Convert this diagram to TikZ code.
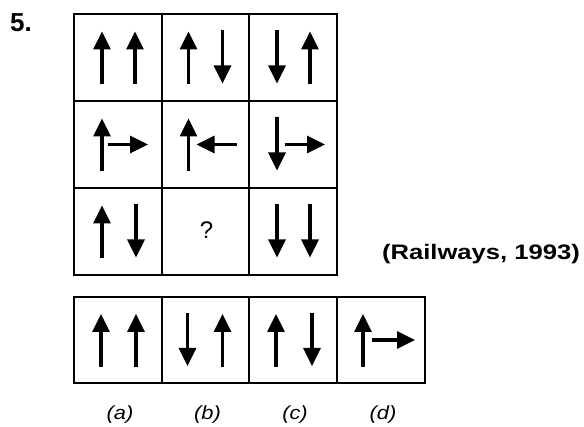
\documentclass[tikz,border=0pt]{standalone}
\usepackage{fontspec}
\setmainfont{Liberation Sans}
\usetikzlibrary{arrows.meta,calc}
\tikzset{
  cellbox/.style ={draw=black,line width=2pt,minimum width=87.5pt,minimum height=87pt,inner sep=0pt},
  arr/.style     ={line width=3.2pt,-{Triangle[length=18pt,width=17pt]}},
  numlab/.style  ={font=\bfseries\fontsize{26}{26}\selectfont,inner sep=0pt},
  srclab/.style  ={font=\bfseries\fontsize{21}{21}\selectfont,xscale=1.22,inner sep=0pt},
  optlab/.style  ={font=\itshape\fontsize{19}{19}\selectfont,xscale=1.15,inner sep=0pt},
  qlab/.style    ={font=\fontsize{24}{24}\selectfont,inner sep=0pt},
}
\newcommand{\uparr}[2]{\draw[arr] ($(#1)+(#2,27)$) -- ($(#1)+(#2,-26)$);}
\newcommand{\dnarr}[2]{\draw[arr] ($(#1)+(#2,-27)$) -- ($(#1)+(#2,26)$);}
\newcommand{\hzarr}[3]{\draw[arr] ($(#1)+(#2,0)$) -- ($(#1)+(#3,0)$);}

\begin{document}
\begin{tikzpicture}[x=1pt,y=-1pt]
  \useasboundingbox (0,0) rectangle (584,427);
  \node[numlab] (num) at (21,23) {5.};
  % problem figure
  \foreach \r/\yy in {1/57.5,2/144.5,3/231.5}{
    \foreach \c/\xx in {1/118,2/205.5,3/293}{
      \node[cellbox] (q\r\c) at (\xx,\yy) {};}}
  % answer figures
  \foreach \c/\xx/\t in {1/118/a,2/205.5/b,3/293/c,4/381/d}{
    \node[cellbox,minimum height=86pt] (o\c) at (\xx,340) {};
    \node[optlab] (l\c) at (\xx+2,415) {(\t)};}
  \node[srclab] (src) at (481,254) {(Railways, 1993)};
  \node[qlab] (qm) at ($(q32)+(1,-1)$) {?};
  % row 1
  \uparr{q11}{-16} \uparr{q11}{17}
  \uparr{q12}{-17} \dnarr{q12}{17}
  \dnarr{q13}{-16} \uparr{q13}{17}
  % row 2
  \uparr{q21}{-16} \hzarr{q21}{-10}{30}
  \uparr{q22}{-17} \hzarr{q22}{31}{-9}
  \dnarr{q23}{-16} \hzarr{q23}{-8}{32}
  % row 3
  \uparr{q31}{-16} \dnarr{q31}{18}
  \dnarr{q33}{-16} \dnarr{q33}{17}
  % choices
  \uparr{o1}{-17} \uparr{o1}{18}
  \dnarr{o2}{-18} \uparr{o2}{17}
  \uparr{o3}{-17} \dnarr{o3}{19}
  \uparr{o4}{-18} \hzarr{o4}{-9}{34}
\end{tikzpicture}
\end{document}
